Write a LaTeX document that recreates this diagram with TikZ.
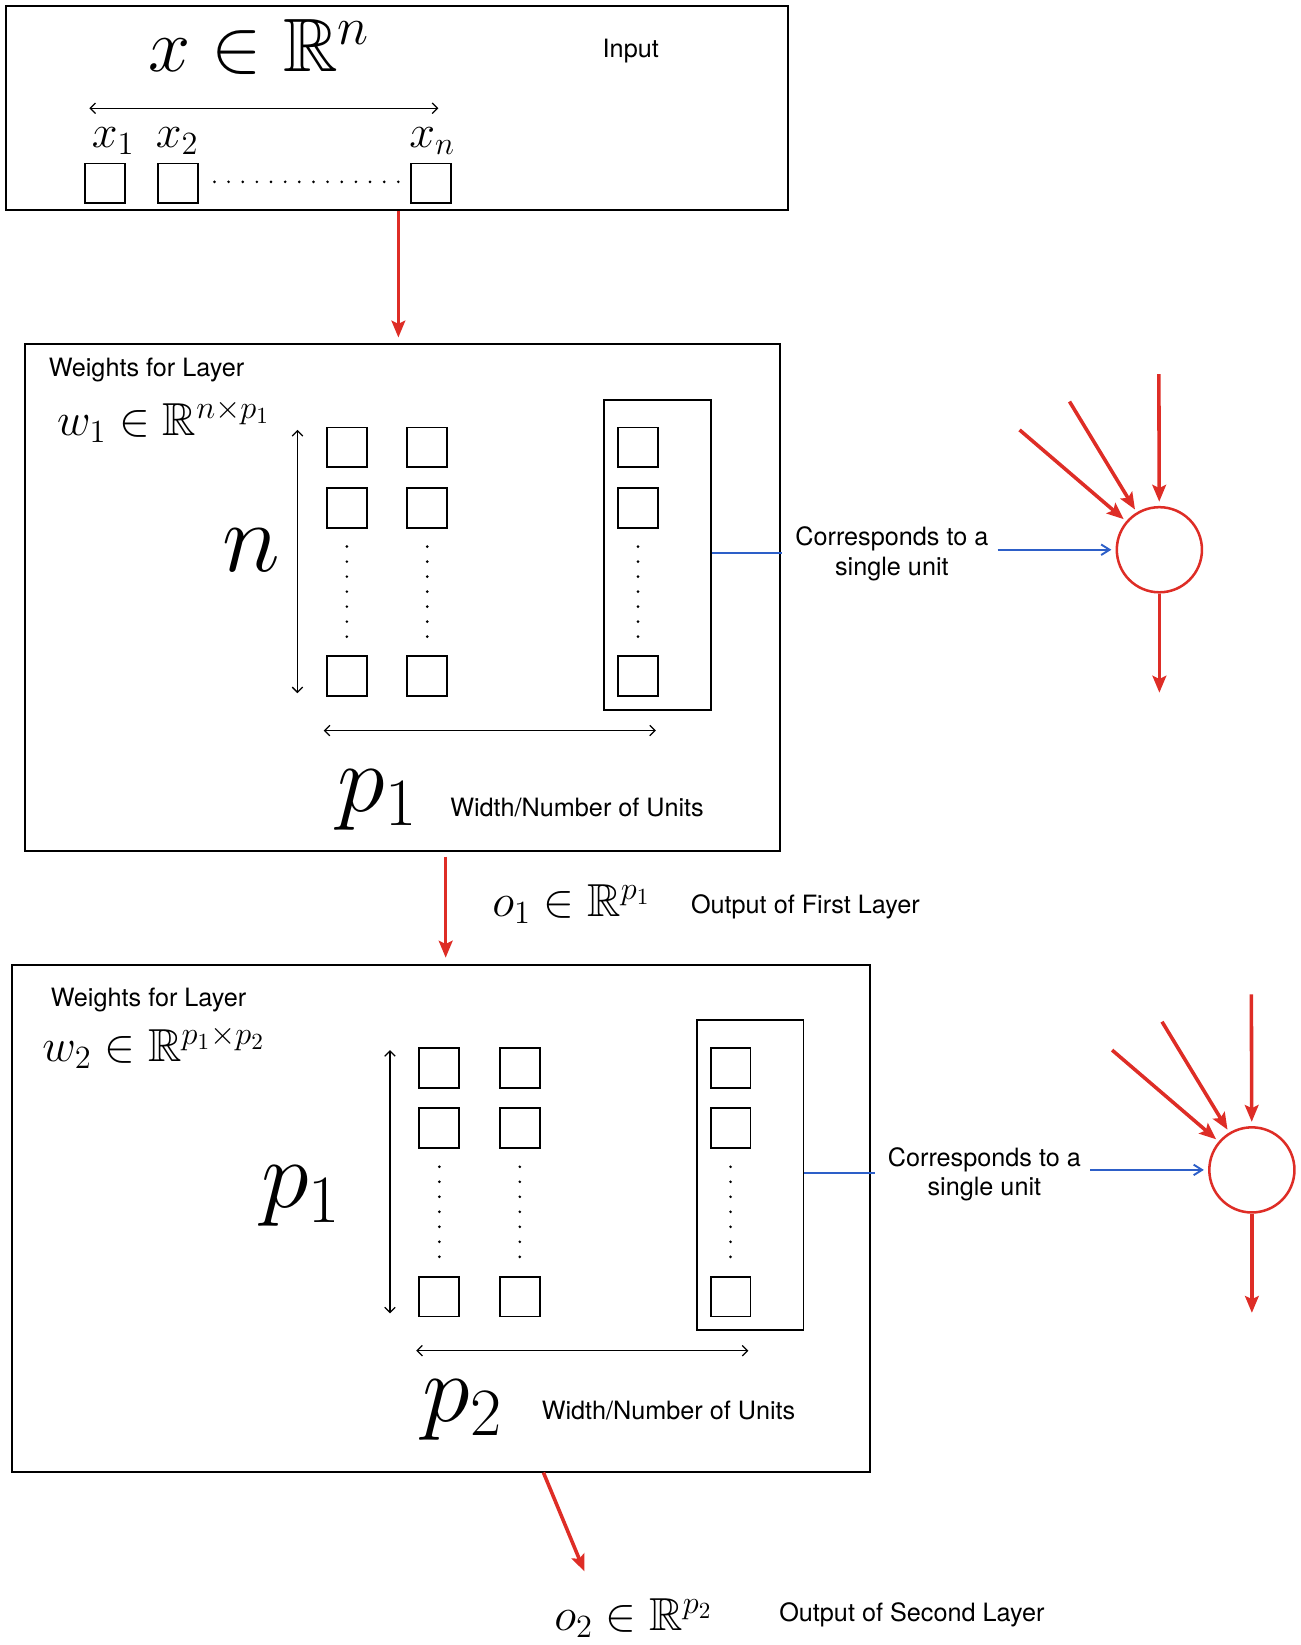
\RequirePackage{fix-cm}
\documentclass[tikz,border=0pt]{standalone}
\usepackage{fontspec}
\setmainfont{TeX Gyre Heros}
\usepackage{amssymb}
\usetikzlibrary{arrows.meta}
\definecolor{myred}{RGB}{222,45,38}
\definecolor{myblue}{RGB}{45,95,200}
\begin{document}
\begin{tikzpicture}[x=0.5pt,y=-0.5pt,
  outer/.style={draw, line width=0.9pt, inner sep=0},
  sq/.style={draw, line width=0.9pt, minimum size=19pt, inner sep=0},
  lbl/.style={inner sep=0, anchor=base west, font=\fontsize{12}{14}\selectfont},
  mth/.style={inner sep=0, anchor=base west},
  redarr/.style={draw=myred, line width=1.7pt, -{Stealth[length=8pt,width=6.5pt,inset=1.5pt]}},
  dbl/.style={line width=0.6pt, {Straight Barb[length=2.5pt,width=5pt]}-{Straight Barb[length=2.5pt,width=5pt]}},
  bluel/.style={draw=myblue, line width=1pt},
  bluearr/.style={draw=myblue, line width=0.9pt, -{Straight Barb[length=4pt,width=5pt]}},
  neuron/.style={circle, draw=myred, line width=1.2pt, minimum size=40.5pt, inner sep=0}
]
\useasboundingbox (0,0) rectangle (1237,1565);

% ---------- outer boxes ----------
\node[outer, minimum width=372pt, minimum height=97pt] (B1) at (378,103) {};
\node[outer, minimum width=359pt, minimum height=241.5pt] (B2) at (383,568.5) {};
\node[outer, minimum width=408.5pt, minimum height=241pt] (B3) at (419.5,1159) {};

% ---------- input box ----------
\node[mth, font=\fontsize{36}{40}\selectfont] (xin) at (141,68) {$x \in \mathbb{R}^n$};
\node[lbl] (inp) at (573,55) {Input};
\coordinate (ial) at (85,103);
\coordinate (iar) at (417,103);
\draw[dbl] (ial) -- (iar);
\node[mth, font=\fontsize{22}{24}\selectfont] (lx1) at (87,140) {$x_1$};
\node[mth, font=\fontsize{22}{24}\selectfont] (lx2) at (148,140) {$x_2$};
\node[mth, font=\fontsize{22}{24}\selectfont] (lxn) at (389,140) {$x_n$};
\node[sq] (x1) at (99.5,174.5) {};
\node[sq] (x2) at (169.5,174.5) {};
\node[sq] (xn) at (410,174.5) {};
\foreach \k in {0,...,13}{\fill (204+\k*13.46,173) circle[radius=0.7pt];}

% ---------- layers (internals and neurons) ----------
\foreach \L/\dx/\dy in {1/0/0,2/88/590}{
  \begin{scope}[shift={(\dx,\dy)}]
    \foreach \c/\cx in {1/330,2/406.5,3/607}{
      \foreach \r/\ry in {1/425.7,2/483,3/643.5}{
        \node[sq] (s\L-\r-\c) at (\cx,\ry) {};
      }
      \foreach \k in {0,...,6}{\fill (\cx,520+\k*14.28) circle[radius=0.7pt];}
    }
    \node[outer, minimum width=50.7pt, minimum height=147.5pt] (col\L) at (625.7,528) {};
    \coordinate (vt\L) at (283,409);
    \coordinate (vb\L) at (283,659.5);
    \draw[dbl] (vt\L) -- (vb\L);
    \coordinate (hl\L) at (308,695);
    \coordinate (hr\L) at (624,695);
    \draw[dbl] (hl\L) -- (hr\L);
    \coordinate (be\L) at (744,526);
    \draw[bluel] (col\L.east |- be\L) -- (be\L);
    \node[align=center, inner sep=0, font=\fontsize{12}{14}\selectfont] (cor\L) at (848.5,527) {Corresponds to a\\single unit};
    \node[neuron] (u\L) at (1103,523) {};
    \coordinate (bs\L) at (949,523);
    \draw[bluearr, shorten >=2pt] (bs\L) -- (u\L.west);
    \coordinate (ia\L) at (970,409);
    \coordinate (ib\L) at (1017.5,382);
    \coordinate (ic\L) at (1102.5,356);
    \coordinate (oc\L) at (1103,659);
    \draw[redarr, shorten >=1.5pt] (ia\L) -- (u\L);
    \draw[redarr, shorten >=1.5pt] (ib\L) -- (u\L);
    \draw[redarr, shorten >=2pt] (ic\L) -- (u\L);
    \draw[redarr] (u\L.south) -- (oc\L);
  \end{scope}
}

% ---------- layer 1 texts ----------
\node[lbl] (wl1) at (46,358) {Weights for Layer};
\node[mth, font=\fontsize{22}{24}\selectfont] (w1) at (54,414) {$w_1 \in \mathbb{R}^{n\times p_1}$};
\node[mth, font=\fontsize{47}{50}\selectfont] (nn) at (211,544) {$n$};
\node[mth, font=\fontsize{46}{50}\selectfont] (pa) at (321,772) {$p_1$};
\node[lbl] (wn1) at (428,777) {Width/Number of Units};

% ---------- between layers ----------
\coordinate (X1) at (379,0);
\draw[redarr, shorten >=2.5pt] (B1.south -| X1) -- (B2.north -| X1);
\coordinate (X2) at (424,0);
\draw[redarr, shorten <=2pt, shorten >=3pt] (B2.south -| X2) -- (B3.north -| X2);
\node[mth, font=\fontsize{22}{24}\selectfont] (o1) at (468,872) {$o_1 \in \mathbb{R}^{p_1}$};
\node[lbl] (of1) at (657,869) {Output of First Layer};

% ---------- layer 2 texts ----------
\node[lbl] (wl2) at (48,958) {Weights for Layer};
\node[mth, font=\fontsize{22}{24}\selectfont] (w2) at (40,1010) {$w_2 \in \mathbb{R}^{p_1\times p_2}$};
\node[mth, font=\fontsize{46}{50}\selectfont] (pb) at (248,1149) {$p_1$};
\node[mth, font=\fontsize{46}{50}\selectfont] (pc) at (402,1352) {$p_2$};
\node[lbl] (wn2) at (515,1350) {Width/Number of Units};

% ---------- output ----------
\coordinate (X3) at (517,0);
\coordinate (o2t) at (556,1495);
\draw[redarr] (B3.south -| X3) -- (o2t);
\node[mth, font=\fontsize{22}{24}\selectfont] (o2) at (527,1551) {$o_2 \in \mathbb{R}^{p_2}$};
\node[lbl] (of2) at (741,1543) {Output of Second Layer};
\end{tikzpicture}
\end{document}
